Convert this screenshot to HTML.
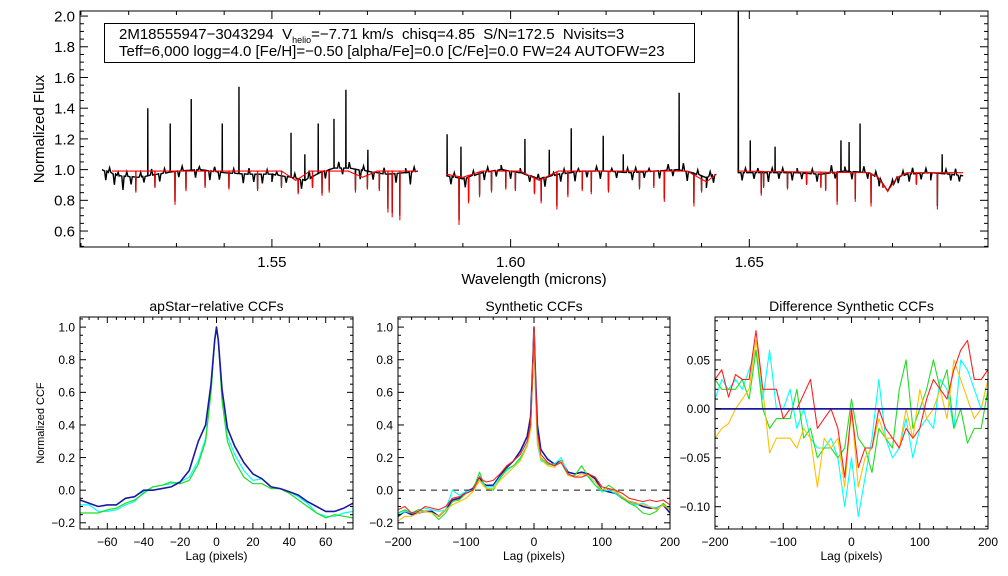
<!DOCTYPE html>
<html><head><meta charset="utf-8"><style>
body{margin:0;background:#fff;}
svg{display:block;font-family:"Liberation Sans",sans-serif;}
</style></head><body>
<svg id="chart" width="1008" height="576" viewBox="0 0 1008 576" xmlns="http://www.w3.org/2000/svg">
<rect width="1008" height="576" fill="#fff"/>
<g id="top"></g><g id="p1"></g><g id="p2"></g><g id="p3"></g>
<g>
<rect x="104.5" y="23.5" width="590" height="39" fill="#fff" stroke="#000" stroke-width="1"/>
<text x="119" y="39" font-size="15">2M18555947−3043294&#160; V<tspan font-size="9" dy="4">helio</tspan><tspan dy="-4">=−7.71 km/s&#160; chisq=4.85&#160; S/N=172.5&#160; Nvisits=3</tspan></text>
<text x="119" y="56" font-size="15">Teff=6,000 logg=4.0 [Fe/H]=−0.50 [alpha/Fe]=0.0 [C/Fe]=0.0 FW=24 AUTOFW=23</text>
</g>
</svg>
<script>
// ---- spectrum data ----
const blackKnotW=[1.5144,1.518,1.522,1.526,1.530,1.535,1.540,1.545,1.550,1.554,1.557,1.560,1.563,1.566,1.570,1.574,1.578,1.5806,null,1.5865,1.590,1.594,1.598,1.602,1.606,1.610,1.615,1.620,1.625,1.630,1.635,1.638,1.641,1.6431,null,1.6476,1.652,1.656,1.660,1.665,1.670,1.675,1.677,1.679,1.681,1.683,1.688,1.692,1.6948];
const blackKnotF=[1.0,0.96,0.95,0.97,0.99,1.0,0.98,0.97,0.97,0.95,0.93,0.98,1.01,1.01,0.99,0.97,0.98,0.99,null,0.96,0.94,0.98,1.0,0.98,0.94,0.97,0.99,0.99,0.98,0.99,1.0,0.98,0.95,0.97,null,0.98,0.98,0.98,0.98,0.97,0.99,0.98,0.95,0.86,0.95,0.97,0.98,0.97,0.96];
const redKnotW=[1.5165,1.552,1.555,1.558,1.566,1.569,1.572,1.5806,null,1.5865,1.590,1.594,1.602,1.606,1.610,1.637,1.641,1.6431,null,1.6476,1.675,1.677,1.679,1.681,1.683,1.6948];
const redKnotF=[0.99,0.99,0.93,0.99,0.99,0.95,0.99,0.99,null,0.97,0.95,0.99,0.99,0.93,0.99,0.99,0.92,0.97,null,0.99,0.98,0.95,0.86,0.95,0.98,0.98];
const emisW=[1.5240,1.5287,1.5331,1.5396,1.5431,1.5540,1.5569,1.5597,1.5630,1.5655,1.5701,1.5867,1.5896,1.6030,1.6081,1.6127,1.6194,1.6236,1.6353,1.6477,1.6502,1.6554,1.6692,1.6709,1.6732,1.6904];
const emisF=[1.40,1.30,1.46,1.30,1.54,1.24,1.10,1.30,1.33,1.52,1.13,1.23,1.15,1.20,1.13,1.27,1.22,1.10,1.50,2.05,1.19,1.15,1.19,1.18,1.30,1.10];
const absW=[1.5143,1.5215,1.5255,1.5297,1.5320,1.5360,1.5410,1.5470,1.5520,1.5555,1.5585,1.5605,1.5620,1.5675,1.5700,1.5725,1.5743,1.5752,1.5768,1.5892,1.5912,1.5935,1.5960,1.5990,1.6010,1.6050,1.6064,1.6097,1.6120,1.6150,1.6169,1.6205,1.6270,1.6300,1.6322,1.6384,1.6400,1.6525,1.6530,1.6580,1.6620,1.6650,1.6660,1.6684,1.6722,1.6755,1.6780,1.6850,1.6894];
const absF=[0.68,0.85,0.88,0.77,0.86,0.88,0.87,0.86,0.88,0.84,0.88,0.83,0.85,0.85,0.87,0.86,0.72,0.69,0.67,0.64,0.78,0.82,0.85,0.87,0.86,0.84,0.78,0.74,0.82,0.86,0.84,0.85,0.87,0.88,0.79,0.76,0.85,0.83,0.88,0.87,0.90,0.88,0.86,0.77,0.79,0.76,0.88,0.90,0.74];
// weak features seen only in the observed (black) spectrum: offsets from local continuum
const weakW=[1.5152,1.5160,1.5170,1.5178,1.5188,1.5196,1.5205,1.5225,1.5232,1.5248,1.5265,1.5275,1.5305,1.5312,1.5340,1.5348,1.5370,1.5380,1.5390,1.5420,1.5440,1.5452,1.5462,1.5480,1.5490,1.5500,1.5510,1.5530,1.5548,1.5562,1.5578,1.5612,1.5640,1.5648,1.5662,1.5685,1.5692,1.5712,1.5735,1.5760,1.5780,1.5790,1.5798,
1.5875,1.5882,1.5905,1.5922,1.5945,1.5952,1.5970,1.5980,1.6000,1.6020,1.6040,1.6058,1.6072,1.6090,1.6105,1.6112,1.6135,1.6142,1.6160,1.6180,1.6188,1.6212,1.6222,1.6245,1.6255,1.6262,1.6280,1.6290,1.6312,1.6330,1.6340,1.6362,1.6370,1.6392,1.6410,1.6418,1.6425,
1.6485,1.6492,1.6510,1.6518,1.6540,1.6548,1.6562,1.6570,1.6590,1.6600,1.6610,1.6632,1.6642,1.6672,1.6680,1.6700,1.6715,1.6740,1.6748,1.6765,1.6772,1.6800,1.6812,1.6822,1.6835,1.6842,1.6860,1.6870,1.6880,1.6912,1.6922,1.6932,1.6940];
const weakD=[-0.06,0.03,-0.07,0.02,-0.09,0.03,-0.05,0.03,-0.04,0.04,-0.05,0.03,-0.04,0.03,-0.05,0.02,-0.06,0.03,-0.05,0.03,-0.06,0.04,-0.05,-0.06,0.03,-0.05,0.02,-0.04,0.03,-0.06,0.05,-0.05,0.04,-0.04,0.04,-0.06,0.03,-0.05,0.04,-0.06,0.03,-0.08,0.03,
-0.05,0.03,-0.06,0.03,-0.05,0.03,-0.04,0.03,-0.05,0.03,-0.04,0.03,-0.06,0.02,-0.05,0.03,-0.06,0.02,-0.04,0.03,-0.05,0.02,-0.04,0.03,-0.05,0.03,-0.04,0.02,-0.05,0.04,-0.04,0.05,-0.06,0.03,-0.07,0.03,-0.05,
-0.05,0.03,-0.04,0.03,-0.06,0.03,-0.04,0.03,-0.05,0.03,-0.04,0.03,-0.05,0.05,-0.04,0.03,-0.05,0.04,-0.04,0.03,-0.05,0.03,-0.04,0.03,-0.05,0.04,-0.04,0.03,-0.05,0.03,-0.04,0.04,-0.04];
// ---- CCF data ----
const lag1=[-75,-70,-65,-60,-55,-50,-45,-40,-35,-30,-25,-20,-15,-10,-6,-3,-1,0,1,3,6,10,15,20,25,30,35,40,45,50,55,60,65,70,75];
const ccf1Blue=[-0.06,-0.08,-0.10,-0.09,-0.09,-0.05,-0.04,0.00,0.00,0.01,0.02,0.05,0.12,0.30,0.40,0.65,0.92,1.0,0.92,0.62,0.38,0.27,0.17,0.10,0.07,0.02,0.01,-0.01,-0.03,-0.07,-0.10,-0.13,-0.13,-0.11,-0.08];
const ccf1Cyan=[-0.09,-0.09,-0.13,-0.13,-0.12,-0.09,-0.07,-0.01,0.02,0.03,0.04,0.05,0.08,0.18,0.32,0.60,0.92,1.0,0.92,0.58,0.33,0.22,0.12,0.06,0.07,0.02,0.01,-0.01,-0.04,-0.08,-0.14,-0.16,-0.16,-0.14,-0.13];
const ccf1Green=[-0.14,-0.14,-0.14,-0.12,-0.11,-0.08,-0.06,-0.02,0.02,0.03,0.05,0.04,0.06,0.16,0.30,0.60,0.92,1.0,0.92,0.55,0.30,0.18,0.08,0.04,0.04,0.01,0.01,-0.02,-0.06,-0.10,-0.14,-0.17,-0.15,-0.16,-0.17];
const lag2=[-200,-190,-180,-170,-160,-150,-140,-130,-120,-110,-100,-90,-80,-75,-70,-60,-50,-40,-30,-20,-10,-5,-2,0,2,5,10,20,30,40,50,60,70,80,90,100,110,120,130,140,150,160,170,180,190,200];
const ccf2Blue=[-0.16,-0.13,-0.15,-0.14,-0.13,-0.13,-0.16,-0.12,-0.06,-0.05,-0.01,0.01,0.08,0.04,0.03,0.03,0.09,0.14,0.18,0.24,0.33,0.45,0.75,1.0,0.72,0.40,0.25,0.19,0.16,0.18,0.11,0.10,0.11,0.10,0.07,0.0,-0.01,-0.02,-0.05,-0.07,-0.08,-0.10,-0.11,-0.11,-0.09,-0.14];
const ccf2Cyan=[-0.15,-0.13,-0.14,-0.12,-0.11,-0.12,-0.13,-0.12,0.0,-0.03,-0.01,0.0,0.06,0.04,0.02,0.02,0.08,0.12,0.15,0.19,0.28,0.38,0.70,0.98,0.60,0.28,0.18,0.16,0.16,0.20,0.10,0.08,0.08,0.09,0.03,-0.01,0.0,-0.02,-0.05,-0.08,-0.09,-0.08,-0.10,-0.11,-0.09,-0.11];
const ccf2Green=[-0.14,-0.12,-0.14,-0.12,-0.13,-0.14,-0.18,-0.14,-0.07,-0.06,-0.02,0.0,0.11,0.05,0.01,0.0,0.07,0.13,0.15,0.20,0.27,0.38,0.70,0.98,0.65,0.30,0.20,0.16,0.15,0.17,0.09,0.09,0.15,0.08,0.03,0.0,0.03,0.0,-0.05,-0.08,-0.10,-0.14,-0.15,-0.13,-0.08,-0.12];
const ccf2Yellow=[-0.19,-0.16,-0.16,-0.14,-0.13,-0.14,-0.16,-0.12,-0.09,-0.07,-0.05,-0.01,0.06,0.03,0.01,0.01,0.06,0.10,0.14,0.18,0.27,0.37,0.70,0.98,0.62,0.30,0.19,0.15,0.14,0.18,0.09,0.08,0.10,0.09,0.05,0.0,0.01,-0.01,-0.04,-0.07,-0.08,-0.09,-0.10,-0.12,-0.09,-0.12];
const ccf2Red=[-0.12,-0.10,-0.14,-0.13,-0.10,-0.11,-0.12,-0.10,-0.05,-0.04,-0.02,0.0,0.08,0.06,0.05,0.06,0.10,0.15,0.18,0.22,0.30,0.40,0.70,1.0,0.70,0.35,0.22,0.17,0.15,0.17,0.10,0.08,0.08,0.10,0.08,0.02,0.01,0.0,-0.02,-0.05,-0.06,-0.07,-0.06,-0.07,-0.06,-0.09];
const lag3=[-200,-190,-180,-170,-160,-150,-140,-130,-120,-110,-100,-90,-80,-70,-60,-50,-40,-30,-20,-10,0,10,20,30,40,50,60,70,80,90,100,110,120,130,140,150,160,170,180,190,200];
const diffCyan=[0.01,0.03,0.02,0.03,0.02,0.04,0.06,0.01,0.06,0.00,0.0,0.02,-0.02,0.00,-0.03,-0.04,-0.04,-0.03,-0.05,-0.10,-0.05,-0.11,-0.07,-0.03,0.03,-0.03,-0.05,-0.04,-0.01,-0.05,-0.02,-0.01,-0.02,0.03,0.02,-0.02,0.05,0.04,0.02,0.00,0.03];
const diffGreen=[0.03,0.02,0.02,0.02,0.03,0.01,0.06,0.0,-0.02,-0.01,-0.01,-0.01,0.02,-0.03,-0.02,-0.05,-0.04,-0.04,-0.05,-0.04,0.01,-0.03,-0.04,-0.065,-0.02,-0.03,-0.04,0.02,0.05,-0.02,0.0,0.02,0.05,0.02,0.04,-0.02,0.0,-0.035,-0.02,-0.02,0.02];
const diffYellow=[-0.03,-0.02,-0.015,0.0,0.01,0.02,0.07,0.02,-0.045,-0.03,-0.03,-0.03,-0.04,-0.02,-0.03,-0.08,-0.03,-0.04,-0.03,-0.08,0.0,-0.08,-0.05,-0.04,-0.01,-0.03,-0.03,-0.04,0.0,-0.03,0.02,-0.01,0.0,0.02,-0.01,0.05,0.03,0.01,-0.01,0.0,0.03];
const diffRed=[0.03,0.04,0.012,0.035,0.03,0.03,0.08,0.02,0.02,0.02,-0.01,0.0,0.0,0.015,0.03,-0.02,-0.01,0.0,-0.02,-0.07,0.0,-0.06,-0.04,-0.04,0.0,-0.02,-0.03,-0.04,-0.02,-0.03,-0.02,0.01,0.03,0.02,0.01,0.04,0.06,0.07,0.03,0.03,0.04];
const diffBlue=lag3.map(()=>0);

const NS='http://www.w3.org/2000/svg';
function mk(parent,tag,attrs){const e=document.createElementNS(NS,tag);for(const k in attrs)e.setAttribute(k,attrs[k]);parent.appendChild(e);return e;}
function makeAxes(g,box,xr,yr){
  const sx=v=>box.x0+(v-xr[0])/(xr[1]-xr[0])*(box.x1-box.x0);
  const sy=v=>box.y1-(v-yr[0])/(yr[1]-yr[0])*(box.y1-box.y0);
  return {sx,sy};
}
function drawFrame(g,box,xr,yr,o,sx,sy){
  const fr=mk(g,'rect',{x:box.x0,y:box.y0,width:box.x1-box.x0,height:box.y1-box.y0,fill:'none',stroke:'#000','stroke-width':1});
  
  
  const eps=1e-9;
  for(let v=Math.ceil(xr[0]/o.xminor-eps)*o.xminor;v<=xr[1]+eps;v+=o.xminor){
    const maj=Math.abs(v/o.xmajor-Math.round(v/o.xmajor))<1e-6;const L=maj?o.tl:o.tl/2;const x=sx(v);
    mk(g,'line',{x1:x,x2:x,y1:box.y1,y2:box.y1-L,stroke:'#000'});
    mk(g,'line',{x1:x,x2:x,y1:box.y0,y2:box.y0+L,stroke:'#000'});
  }
  for(let v=Math.ceil(yr[0]/o.yminor-eps)*o.yminor;v<=yr[1]+eps;v+=o.yminor){
    const maj=Math.abs(v/o.ymajor-Math.round(v/o.ymajor))<1e-6;const L=maj?o.tl:o.tl/2;const y=sy(v);
    mk(g,'line',{x1:box.x0,x2:box.x0+L,y1:y,y2:y,stroke:'#000'});
    mk(g,'line',{x1:box.x1,x2:box.x1-L,y1:y,y2:y,stroke:'#000'});
  }
  o.xlabels.forEach(v=>{const t=mk(g,'text',{x:sx(v),y:box.y1+o.fs+5,'font-size':o.fs,'text-anchor':'middle'});t.textContent=o.xfmt(v).replace('-','−');
    });
  o.ylabels.forEach(v=>{const t=mk(g,'text',{x:box.x0-5,y:sy(v)+o.fs*0.36,'font-size':o.fs,'text-anchor':'end'});t.textContent=o.yfmt(v).replace('-','−');
    });
}
function line(g,xs,ys,sx,sy,color,w,name){
  const n=Math.min(xs.length,ys.length);let d='';
  for(let i=0;i<n;i++){d+=(i?'L':'M')+sx(xs[i]).toFixed(1)+','+sy(ys[i]).toFixed(1);}
  const p=mk(g,'path',{d:d,fill:'none',stroke:color,'stroke-width':w,'stroke-linejoin':'round'});
  
  
}
function range(a,b,s){const r=[];for(let v=a;v<=b+1e-9;v+=s)r.push(Math.round(v*1000)/1000);return r;}

// ---- Top spectrum panel ----
(function(){
  const g=document.getElementById('top');
  const box={x0:80,x1:988,y0:11,y1:247};const xr=[1.5098,1.70],yr=[0.496,2.033];
  const {sx,sy}=makeAxes(g,box,xr,yr);
  function spec(kw,kf,withEm,withAbs,withWeak,depthScale,color,w,name){
    let d='';let seg=[];const segs=[];
    for(let i=0;i<kw.length;i++){if(kw[i]===null){segs.push(seg);seg=[];}else seg.push([kw[i],kf[i]]);}
    segs.push(seg);
    segs.forEach(s=>{
      const a=s[0][0],b=s[s.length-1][0];
      const base=w0=>{for(let i=1;i<s.length;i++){if(w0<=s[i][0]){const t=(w0-s[i-1][0])/(s[i][0]-s[i-1][0]);return s[i-1][1]+t*(s[i][1]-s[i-1][1]);}}return s[s.length-1][1];};
      const pts=[];s.forEach(p=>pts.push([p[0],p[1]]));
      if(withAbs)absW.forEach((lw,i)=>{if(lw>=a&&lw<=b){const bb=base(lw);pts.push([lw-0.00004,bb]);pts.push([lw,bb-(bb-absF[i])*depthScale]);pts.push([lw+0.00004,bb]);}});
      if(withWeak)weakW.forEach((lw,i)=>{if(lw>=a&&lw<=b){const bb=base(lw);pts.push([lw-0.00025,bb]);pts.push([lw,bb+weakD[i]]);pts.push([lw+0.00025,bb]);}});
      if(withEm)emisW.forEach((lw,i)=>{if(lw>=a-0.0002&&lw<=b){const bb=base(lw);pts.push([lw-0.00003,bb]);pts.push([lw,Math.min(emisF[i],2.033)]);pts.push([lw+0.00003,bb]);}});
      pts.sort((p,q)=>p[0]-q[0]);
      pts.forEach((p,i)=>{d+=(i?'L':'M')+sx(p[0]).toFixed(2)+','+sy(p[1]).toFixed(1);});
    });
    const p=mk(g,'path',{d:d,fill:'none',stroke:color,'stroke-width':w});
    
    
  }
  spec(blackKnotW,blackKnotF,true,true,true,0.9,'#000',1.4,'observed-spectrum');
  spec(redKnotW,redKnotF,false,true,false,1.0,'#f00',1.1,'model-spectrum');
  drawFrame(g,box,xr,yr,{name:'spectrum',xminor:0.01,xmajor:0.05,yminor:0.05,ymajor:0.2,tl:8,fs:15,
    xlabels:[1.55,1.60,1.65],ylabels:range(0.6,2.0,0.2),xfmt:v=>v.toFixed(2),yfmt:v=>v.toFixed(1)},sx,sy);
  const t=mk(g,'text',{x:534,y:284,'font-size':15,'text-anchor':'middle'});t.textContent='Wavelength (microns)';
  
  const y=mk(g,'text',{x:44,y:129,'font-size':15,'text-anchor':'middle',transform:'rotate(-90 44 129)'});y.textContent='Normalized Flux';
  
})();

function ccfPanel(id,box,xr,yr,opts,series,title,zero){
  const g=document.getElementById(id);
  const {sx,sy}=makeAxes(g,box,xr,yr);
  if(zero){const z=mk(g,'line',{x1:box.x0,x2:box.x1,y1:sy(0),y2:sy(0),stroke:'#555','stroke-width':1.3,'stroke-dasharray':'6,5'});
    }
  series.forEach(s=>line(g,s[0],s[1],sx,sy,s[2],s[3]||1.2,s[4]));
  drawFrame(g,box,xr,yr,opts,sx,sy);
  const t=mk(g,'text',{x:(box.x0+box.x1)/2,y:box.y0-6,'font-size':14,'text-anchor':'middle'});t.textContent=title;
  
  const xl=mk(g,'text',{x:(box.x0+box.x1)/2,y:560,'font-size':12,'text-anchor':'middle'});xl.textContent='Lag (pixels)';
  
  return g;
}
const by0=317,by1=529;
const g1=ccfPanel('p1',{x0:80,x1:353,y0:by0,y1:by1},[-75,75],[-0.238,1.062],
  {name:'apstar-ccf',xminor:5,xmajor:20,yminor:0.05,ymajor:0.2,tl:6,fs:12,xlabels:[-60,-40,-20,0,20,40,60],ylabels:range(-0.2,1.0,0.2),xfmt:v=>String(v),yfmt:v=>v.toFixed(1)},
  [[lag1,ccf1Cyan,'#00ffff',1.2,'ccf-cyan'],[lag1,ccf1Green,'#22dd22',1.2,'ccf-green'],[lag1,ccf1Blue,'#1a1aa0',1.6,'ccf-blue']],'apStar−relative CCFs',false);
const yt=mk(g1,'text',{x:44,y:423,'font-size':11,'text-anchor':'middle',transform:'rotate(-90 44 423)'});yt.textContent='Normalized CCF';


ccfPanel('p2',{x0:398,x1:670,y0:by0,y1:by1},[-200,200],[-0.238,1.062],
  {name:'synthetic-ccf',xminor:20,xmajor:100,yminor:0.05,ymajor:0.2,tl:6,fs:12,xlabels:[-200,-100,0,100,200],ylabels:range(-0.2,1.0,0.2),xfmt:v=>String(v),yfmt:v=>v.toFixed(1)},
  [[lag2,ccf2Blue,'#1a1aa0',1.6,'ccf-blue'],[lag2,ccf2Cyan,'#00ffff',1.1,'ccf-cyan'],[lag2,ccf2Green,'#22dd22',1.1,'ccf-green'],[lag2,ccf2Yellow,'#ffc000',1.1,'ccf-yellow'],[lag2,ccf2Red,'#ff2020',1.1,'ccf-red']],'Synthetic CCFs',true);
ccfPanel('p3',{x0:715,x1:988,y0:by0,y1:by1},[-200,200],[-0.1228,0.0939],
  {name:'difference-ccf',xminor:20,xmajor:100,yminor:0.01,ymajor:0.05,tl:6,fs:12,xlabels:[-200,-100,0,100,200],ylabels:[-0.10,-0.05,0.00,0.05],xfmt:v=>String(v),yfmt:v=>v.toFixed(2)},
  [[lag3,diffCyan,'#00ffff',1.1,'diff-cyan'],[lag3,diffGreen,'#22dd22',1.1,'diff-green'],[lag3,diffYellow,'#ffc000',1.1,'diff-yellow'],[lag3,diffRed,'#ff2020',1.1,'diff-red'],[lag3,diffBlue,'#1a1aa0',1.8,'diff-blue']],'Difference Synthetic CCFs',false);
</script>
</body></html>
